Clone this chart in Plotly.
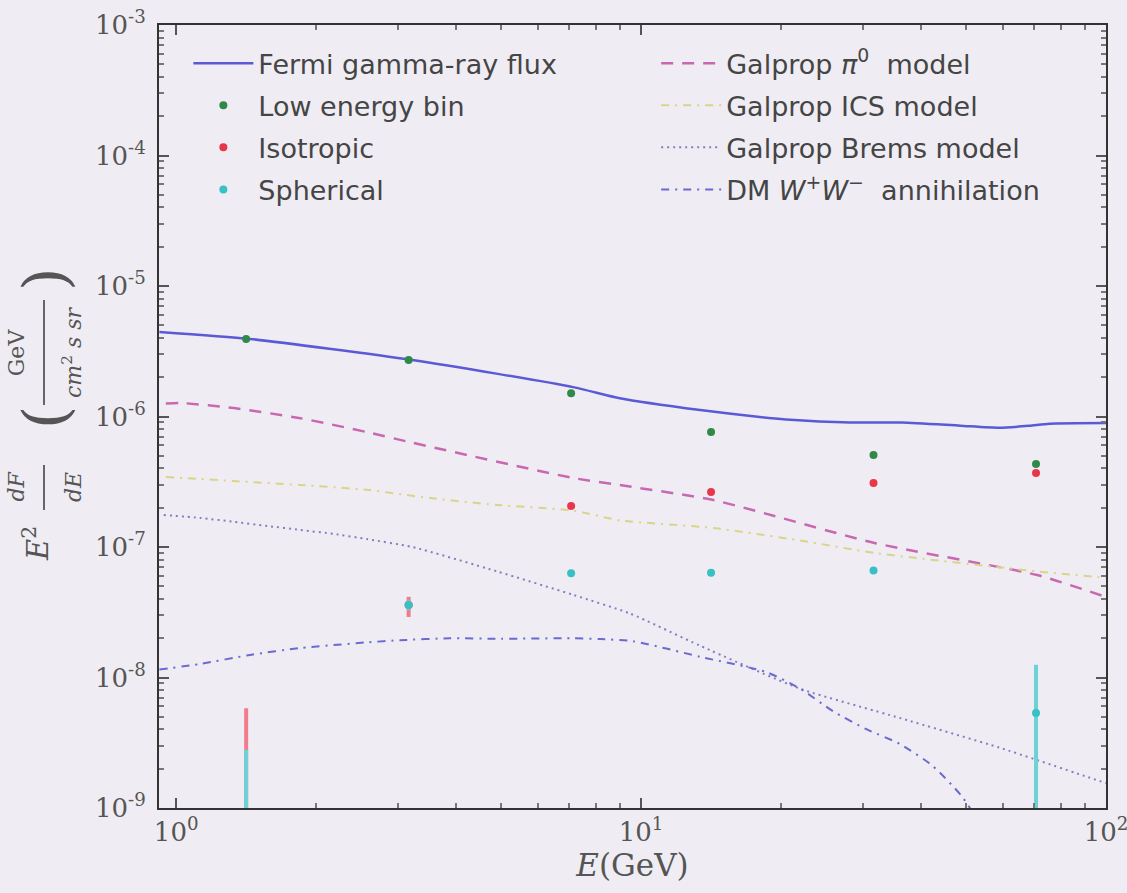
import plotly.graph_objects as go

# Energy bin centres (GeV)
bin_energy = [1.414, 3.162, 7.071, 14.14, 31.62, 70.71]

# Data points: E^2 dF/dE in GeV cm^-2 s^-1 sr^-1
low_energy = [3.93e-6, 2.71e-6, 1.51e-6, 7.6e-7, 5.07e-7, 4.33e-7]
low_energy_err = [8e-8, 6e-8, 4e-8, 2.5e-8, 2e-8, 2e-8]

isotropic = [1e-10, 3.6e-8, 2.06e-7, 2.64e-7, 3.09e-7, 3.69e-7]
isotropic_err_up = [5.7e-9, 5.5e-9, 8e-9, 1e-8, 1.2e-8, 1.5e-8]
isotropic_err_down = [0, 6.9e-9, 8e-9, 1e-8, 1.2e-8, 1.5e-8]

spherical = [1e-10, 3.6e-8, 6.3e-8, 6.35e-8, 6.6e-8, 5.35e-9]
spherical_err_up = [2.7e-9, 3e-9, 3e-9, 3e-9, 3e-9, 7.15e-9]
spherical_err_down = [0, 3e-9, 3e-9, 3e-9, 3e-9, 6e-9]

# Fermi measured flux
fermi_energy = [0.92, 1.44, 3.22, 7.14, 9.0, 13.4, 18.0, 20.5, 28.1, 36.4, 48.6, 59.0, 68.4, 75.6, 100]
fermi_flux = [4.45e-6, 3.93e-6, 2.71e-6, 1.68e-6, 1.38e-6, 1.12e-6, 9.9e-7, 9.5e-7, 9.0e-7,
              9.0e-7, 8.5e-7, 8.2e-7, 8.5e-7, 8.8e-7, 8.9e-7]

# Galprop model components
pi0_energy = [0.95, 1.02, 1.33, 1.85, 2.57, 3.22, 7.14, 9.3, 14.3, 31.9, 71.1, 100]
pi0_flux = [1.26e-6, 1.27e-6, 1.16e-6, 9.7e-7, 7.6e-7, 6.3e-7, 3.38e-7, 2.93e-7, 2.29e-7,
            1.07e-7, 6.1e-8, 4.14e-8]

ics_energy = [0.95, 1.126, 1.33, 1.85, 2.57, 3.52, 4.9, 7.14, 9.0, 14.3, 22.0, 31.9, 71.1, 100]
ics_flux = [3.44e-7, 3.32e-7, 3.2e-7, 2.99e-7, 2.74e-7, 2.37e-7, 2.1e-7, 1.9e-7, 1.6e-7,
            1.4e-7, 1.12e-7, 9.0e-8, 6.5e-8, 5.8e-8]

brems_energy = [0.94, 1.126, 1.33, 1.57, 1.85, 2.18, 2.57, 3.22, 4.9, 7.14, 9.45, 13.4, 22.0,
                36.0, 59.0, 89.9, 100]
brems_flux = [1.76e-7, 1.67e-7, 1.56e-7, 1.45e-7, 1.35e-7, 1.26e-7, 1.15e-7, 1.0e-7, 6.5e-8,
              4.3e-8, 3.1e-8, 1.75e-8, 8.2e-9, 4.9e-9, 2.9e-9, 1.76e-9, 1.55e-9]

# Dark matter W+W- annihilation spectrum
dm_energy = [0.92, 1.126, 1.443, 1.847, 2.575, 3.03, 3.88, 5.0, 7.14, 8.17, 9.6, 13.4, 18.6,
             22.0, 25.9, 30.6, 36.0, 42.4, 48.7, 52.0]
dm_flux = [1.15e-8, 1.27e-8, 1.49e-8, 1.68e-8, 1.86e-8, 1.93e-8, 2.0e-8, 1.98e-8, 2.0e-8,
           1.97e-8, 1.9e-8, 1.44e-8, 1.1e-8, 8.2e-9, 5.5e-9, 4.0e-9, 3.1e-9, 2.1e-9, 1.26e-9, 9e-10]

y_decades = [-9, -8, -7, -6, -5, -4, -3]
x_decades = [0, 1, 2]

BG = "#efedf3"
SERIF = "DejaVu Serif"
SANS = "DejaVu Sans"

fig = go.Figure()

# Model curves
fig.add_trace(go.Scatter(x=fermi_energy, y=fermi_flux, mode="lines", name="Fermi gamma-ray flux",
                         line=dict(color="#5a5ad6", width=2.5, shape="spline", smoothing=0.6),
                         legend="legend", legendgroup="a", legendrank=1))
fig.add_trace(go.Scatter(x=pi0_energy, y=pi0_flux, mode="lines", name="Galprop <i>π</i><sup>0</sup>  model",
                         line=dict(color="#c868b0", width=2.5, dash="12px,9px", shape="spline", smoothing=0.6),
                         legend="legend2", legendgroup="e", legendrank=5))
fig.add_trace(go.Scatter(x=ics_energy, y=ics_flux, mode="lines", name="Galprop ICS model",
                         line=dict(color="#d9d48a", width=2, dash="8px,6px,2px,6px", shape="spline", smoothing=0.6),
                         legend="legend2", legendgroup="f", legendrank=6))
fig.add_trace(go.Scatter(x=brems_energy, y=brems_flux, mode="lines", name="Galprop Brems model",
                         line=dict(color="#8080c0", width=2, dash="2px,4px", shape="spline", smoothing=0.6),
                         legend="legend2", legendgroup="g", legendrank=7))
fig.add_trace(go.Scatter(x=dm_energy, y=dm_flux, mode="lines",
                         name="DM <i>W</i><sup>+</sup><i>W</i><sup>−</sup>  annihilation",
                         line=dict(color="#6a6ad0", width=2, dash="8px,6px,2px,6px", shape="spline", smoothing=0.6),
                         legend="legend2", legendgroup="h", legendrank=8))

# Data points with error bars
fig.add_trace(go.Scatter(x=bin_energy, y=low_energy, mode="markers", name="Low energy bin",
                         marker=dict(color="#2f8a4a", size=8),
                         error_y=dict(type="data", array=low_energy_err, color="#2f8a4a", thickness=2, width=0),
                         legend="legend", legendgroup="b", legendrank=2))
fig.add_trace(go.Scatter(x=bin_energy, y=isotropic, mode="markers", name="Isotropic",
                         marker=dict(color="#e8364a", size=8),
                         error_y=dict(type="data", symmetric=False, array=isotropic_err_up,
                                      arrayminus=isotropic_err_down, color="#f27c8a", thickness=4, width=0),
                         legend="legend", legendgroup="c", legendrank=3))
fig.add_trace(go.Scatter(x=bin_energy, y=spherical, mode="markers", name="Spherical",
                         marker=dict(color="#38c0c4", size=8),
                         error_y=dict(type="data", symmetric=False, array=spherical_err_up,
                                      arrayminus=spherical_err_down, color="#6cd2d6", thickness=4, width=0),
                         legend="legend", legendgroup="d", legendrank=4))

minor_y = [m * 10 ** d for d in range(-9, -3) for m in range(2, 10)]
minor_x = [m * 10 ** d for d in range(0, 2) for m in range(2, 10)]

axis_common = dict(
    showline=True, linecolor="#333", linewidth=2, mirror="ticks",
    ticks="inside", ticklen=10, tickwidth=1.5, tickcolor="#555",
    showgrid=False, zeroline=False, automargin=False, ticklabeloverflow="allow",
    tickfont=dict(family=SERIF, size=26, color="#555"),
)

fig.update_xaxes(type="log", range=[-0.037, 2],
                 tickmode="array", tickvals=[10 ** d for d in x_decades],
                 ticktext=[f"10<sup>{d}</sup>" for d in x_decades],
                 minor=dict(tickmode="array", tickvals=minor_x, ticks="inside", ticklen=5, tickcolor="#777"),
                 title=dict(text="<i>E</i>(GeV)", font=dict(family=SERIF, size=31, color="#555"), standoff=4),
                 **axis_common)
fig.update_yaxes(type="log", range=[-9, -3],
                 tickmode="array", tickvals=[10 ** d for d in y_decades],
                 ticktext=[f"10<sup>{d}</sup>" for d in y_decades],
                 minor=dict(tickmode="array", tickvals=minor_y, ticks="inside", ticklen=5, tickcolor="#777"),
                 ticklabelstandoff=6,
                 **axis_common)

legend_common = dict(
    orientation="v", xanchor="left", yanchor="top", bgcolor="rgba(0,0,0,0)",
    font=dict(family=SANS, size=27, color="#454545"), itemwidth=60, tracegroupgap=4,
)
fig.update_layout(
    width=1127, height=893,
    margin=dict(l=159, r=21, t=25, b=85),
    paper_bgcolor=BG, plot_bgcolor=BG,
    legend=dict(x=0.031, y=0.982, **legend_common),
    legend2=dict(x=0.525, y=0.982, **legend_common),
)

# Vertical axis label: E^2 dF/dE (GeV / cm^2 s sr), built from rotated pieces
def px_x(px):
    return (px - 159) / 947

def px_y(py):
    return 1 - (py - 25) / 783

label_font = dict(family=SERIF, size=29, color="#555")
small_font = dict(family=SERIF, size=22, color="#555")
annotations = [
    dict(text="<i>E</i><sup>2</sup>", x=px_x(36), y=px_y(543), font=label_font),
    dict(text="<i>dF</i><br><br><i>dE</i>", x=px_x(45), y=px_y(487), font=small_font),
    dict(text="(", x=px_x(45), y=px_y(418), font=dict(family=SERIF, size=60, color="#555")),
    dict(text="GeV<br><br><i>cm</i><sup>2</sup> <i>s sr</i>", x=px_x(45), y=px_y(352), font=small_font),
    dict(text=")", x=px_x(45), y=px_y(280), font=dict(family=SERIF, size=60, color="#555")),
]
for a in annotations:
    fig.add_annotation(xref="paper", yref="paper", showarrow=False, textangle=-90,
                       xanchor="center", yanchor="middle", **a)

# Fraction bars of the axis label
for y0, y1 in [(465, 510), (300, 405)]:
    fig.add_shape(type="line", xref="paper", yref="paper",
                  x0=px_x(44), x1=px_x(44), y0=px_y(y0), y1=px_y(y1),
                  line=dict(color="#666", width=2))

fig.write_html("out.html")
